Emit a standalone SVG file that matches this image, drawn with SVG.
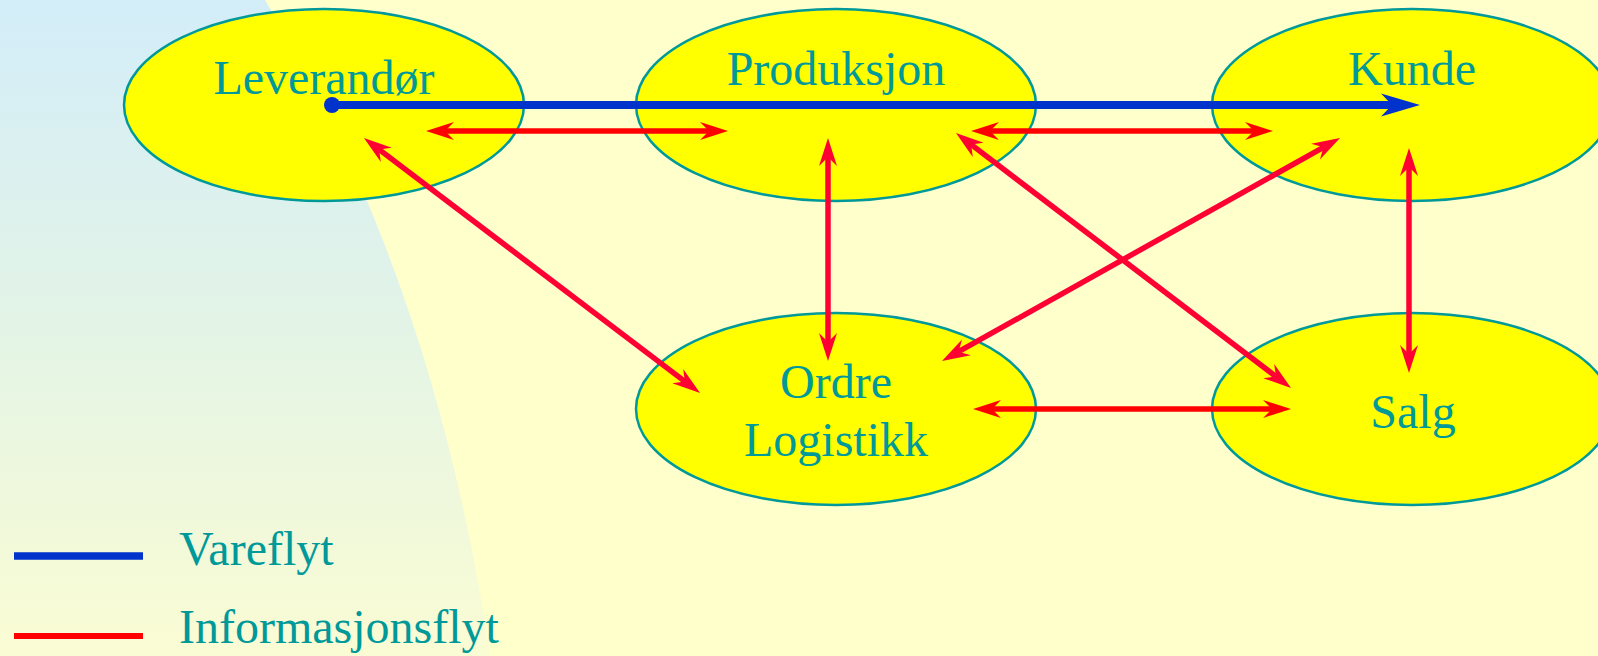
<svg xmlns="http://www.w3.org/2000/svg" width="1598" height="656" viewBox="0 0 1598 656">
  <style>
    .node ellipse { fill: #FFFF00; stroke: #009999; stroke-width: 2.5; }
    .lbl { font-family: "Liberation Serif", "Times New Roman", serif; font-size: 48px; fill: #009999; text-anchor: middle; }
    .leg { font-family: "Liberation Serif", "Times New Roman", serif; font-size: 48px; fill: #009999; }
    .info { fill: none; stroke: #FF0000; stroke-width: 5.5; marker-start: url(#redHead); marker-end: url(#redHead); }
    .info2 { fill: none; stroke: #FF0033; stroke-width: 5.5; marker-start: url(#pinkHead); marker-end: url(#pinkHead); }
    .goods { fill: none; stroke: #0033CC; stroke-width: 8; marker-end: url(#blueHead); }
  </style>
  <defs>
    <linearGradient id="bgGrad" x1="0" y1="0" x2="0" y2="1">
      <stop offset="0" stop-color="#D3EDF9"/>
      <stop offset="0.5" stop-color="#E3F4E6"/>
      <stop offset="1" stop-color="#FAFCD3"/>
    </linearGradient>
    <marker id="redHead" markerUnits="userSpaceOnUse" markerWidth="30" markerHeight="20" refX="10" refY="10" orient="auto-start-reverse">
      <path d="M0,1 L28,10 L0,19 L9,10 Z" fill="#FF0000"/>
    </marker>
    <marker id="pinkHead" markerUnits="userSpaceOnUse" markerWidth="30" markerHeight="20" refX="10" refY="10" orient="auto-start-reverse">
      <path d="M0,1 L28,10 L0,19 L9,10 Z" fill="#FF0033"/>
    </marker>
    <marker id="blueHead" markerUnits="userSpaceOnUse" markerWidth="40" markerHeight="24" refX="12" refY="12" orient="auto">
      <path d="M0,0.5 L39,12 L0,23.5 L11,12 Z" fill="#0033CC"/>
    </marker>
  </defs>

  <rect x="0" y="0" width="1598" height="656" fill="#FFFFCC"/>
  <path d="M0,0 L265,0 Q435,280 490,656 L0,656 Z" fill="url(#bgGrad)"/>

  <g id="leverandor" class="node">
    <ellipse cx="324" cy="105" rx="200" ry="96"/>
    <text class="lbl" x="324" y="94">Leverandør</text>
  </g>
  <g id="produksjon" class="node">
    <ellipse cx="836" cy="105" rx="200" ry="96"/>
    <text class="lbl" x="836" y="85">Produksjon</text>
  </g>
  <g id="kunde" class="node">
    <ellipse cx="1412" cy="105" rx="200" ry="96"/>
    <text class="lbl" x="1412" y="85">Kunde</text>
  </g>
  <g id="ordre" class="node">
    <ellipse cx="836" cy="409" rx="200" ry="96"/>
    <text class="lbl" x="836" y="398">Ordre</text>
    <text class="lbl" x="836" y="456">Logistikk</text>
  </g>
  <g id="salg" class="node">
    <ellipse cx="1412" cy="409" rx="200" ry="96"/>
    <text class="lbl" x="1413" y="428">Salg</text>
  </g>

  <g id="connectors">
    <line class="goods" x1="332" y1="105" x2="1393" y2="105"/>
    <circle cx="332" cy="105" r="8" fill="#0033CC"/>
    <line class="info" x1="444" y1="131" x2="710" y2="131"/>
    <line class="info" x1="989" y1="131" x2="1255" y2="131"/>
    <line class="info" x1="991" y1="409" x2="1273" y2="409"/>
    <line class="info2" x1="828" y1="156" x2="828" y2="343"/>
    <line class="info2" x1="1409" y1="166" x2="1409" y2="355"/>
    <line class="info2" x1="378.3" y1="148.9" x2="685.7" y2="382.1"/>
    <line class="info2" x1="1324.3" y1="146.8" x2="957.7" y2="352.2"/>
    <line class="info2" x1="970.3" y1="143.9" x2="1276.7" y2="377.1"/>
  </g>

  <g id="legend">
    <line x1="14" y1="556" x2="143" y2="556" stroke="#0033CC" stroke-width="7.5"/>
    <text class="leg" x="179" y="565">Vareflyt</text>
    <line x1="14" y1="636" x2="143" y2="636" stroke="#FF0000" stroke-width="6"/>
    <text class="leg" x="179" y="643">Informasjonsflyt</text>
  </g>
</svg>
